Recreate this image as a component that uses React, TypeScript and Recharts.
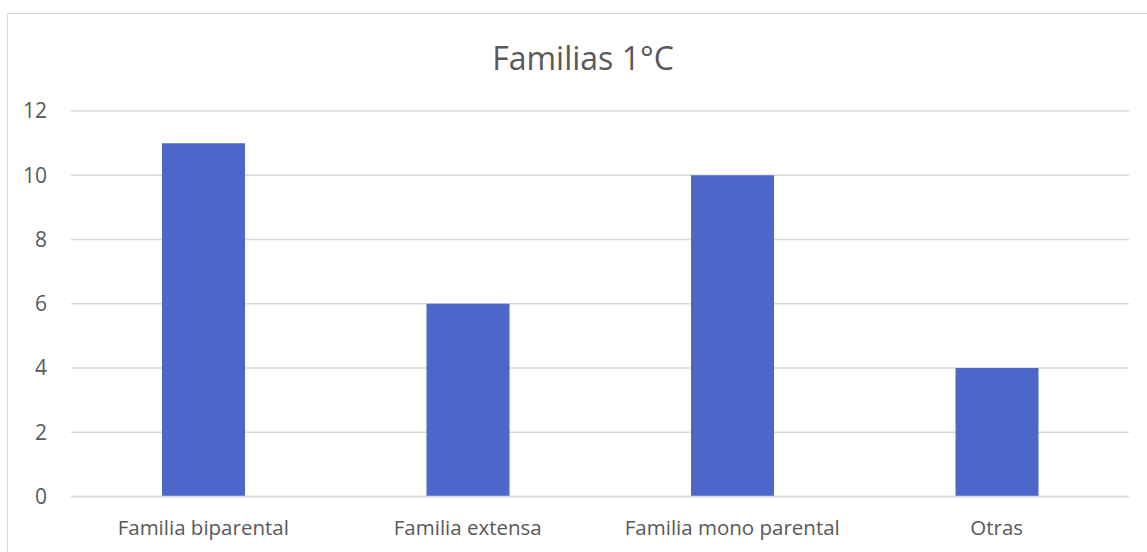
import React from "react";
import { BarChart, Bar, XAxis, YAxis, CartesianGrid } from "recharts";

const categories = ["Familia biparental", "Familia extensa", "Familia mono parental", "Otras"];
const values = [11, 6, 10, 4];
const yTicks = [0, 2, 4, 6, 8, 10, 12];
const title = "Familias 1°C";

const data = categories.map((name, i) => ({ name, value: values[i] }));

const FONT = "'Open Sans', sans-serif";
const TEXT = "#595959";

export default function App() {
  return (
    <div style={{ position: "absolute", left: 0, top: 0, width: 1147, height: 552, overflow: "hidden", background: "#fff" }}>
      <div
        style={{
          position: "absolute",
          left: 7,
          top: 13,
          width: 1160,
          height: 560,
          border: "1px solid #d9d9d9",
          boxSizing: "border-box",
        }}
      />
      <div
        style={{
          position: "absolute",
          left: 383,
          width: 400,
          top: 36,
          textAlign: "center",
          fontFamily: FONT,
          fontSize: 32,
          color: TEXT,
          lineHeight: "44px",
        }}
      >
        {title}
      </div>
      <BarChart
        width={1147}
        height={552}
        data={data}
        margin={{ top: 111, right: 18, bottom: 5.5, left: 11 }}
        style={{ position: "absolute", left: 0, top: 0 }}
      >
        <CartesianGrid vertical={false} stroke="#d9d9d9" strokeWidth={1.3} />
        <XAxis
          dataKey="name"
          axisLine={{ stroke: "#d9d9d9", strokeWidth: 1.3 }}
          tickLine={false}
          tickMargin={18}
          height={50}
          tick={{ fill: TEXT, fontSize: 20.5, fontFamily: FONT }}
          interval={0}
        />
        <YAxis
          domain={[0, 12]}
          ticks={yTicks}
          width={60}
          axisLine={false}
          tickLine={false}
          tickMargin={18}
          tick={{ fill: TEXT, fontSize: 21, fontFamily: FONT }}
        />
        <Bar dataKey="value" fill="#4D66C9" barSize={83} isAnimationActive={false} />
      </BarChart>
    </div>
  );
}
